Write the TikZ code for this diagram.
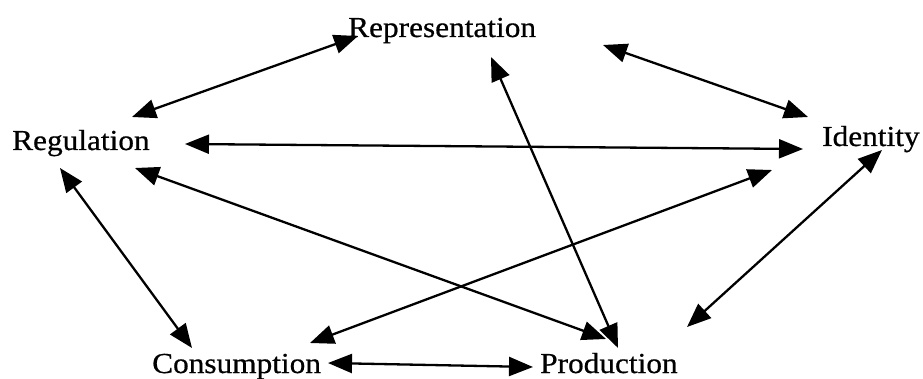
\documentclass[tikz,border=0pt]{standalone}
\usepackage{fontspec}
\setmainfont{Liberation Serif}[FakeStretch=1.08,FakeBold=0.6]
\usetikzlibrary{arrows.meta}
\begin{document}
\begin{tikzpicture}[x=1pt,y=-1pt,
  lbl/.style={anchor=base west,inner sep=0pt,font=\fontsize{29}{32}\selectfont},
  tip/.style={Triangle[length=24pt,width=19pt]},
  link/.style={line width=2.3pt,{Triangle[length=24pt,width=19pt]}-{Triangle[length=24pt,width=19pt]}}]
\path[use as bounding box,fill=white] (0,0) rectangle (923,379);
\node[lbl] (rep) at (348,37) {Representation};
\node[lbl] (reg) at (12,150) {Regulation};
\node[lbl] (ide) at (822,146) {Identity};
\node[lbl] (con) at (152,373) {Consumption};
\node[lbl] (pro) at (540,373) {Production};
% endpoints
\coordinate (regA) at (132,117);  \coordinate (repA) at (358,36);
\coordinate (repB) at (603,45);   \coordinate (ideB) at (808,117);
\coordinate (regC) at (185,144);  \coordinate (ideC) at (803,149);
\coordinate (regD) at (135,168);  \coordinate (proD) at (606,339);
\coordinate (repE) at (491,57);   \coordinate (proE) at (618,348);
\coordinate (conF) at (310,343);  \coordinate (ideF) at (772,170);
\coordinate (regG) at (60,168);   \coordinate (conG) at (192,348);
\coordinate (ideH) at (882,150);  \coordinate (proH) at (687,327);
\coordinate (conI) at (328,363);  \coordinate (proI) at (533,367);
\draw[link] (regA) -- (repA);
\draw[link] (repB) -- (ideB);
\draw[link] (regC) -- (ideC);
\draw[link] (regD) -- (proD);
\draw[link] (repE) -- (proE);
\draw[link] (conF) -- (ideF);
\draw[link] (regG) -- (conG);
\draw[link] (ideH) -- (proH);
\draw[link] (conI) -- (proI);
\end{tikzpicture}
\end{document}
